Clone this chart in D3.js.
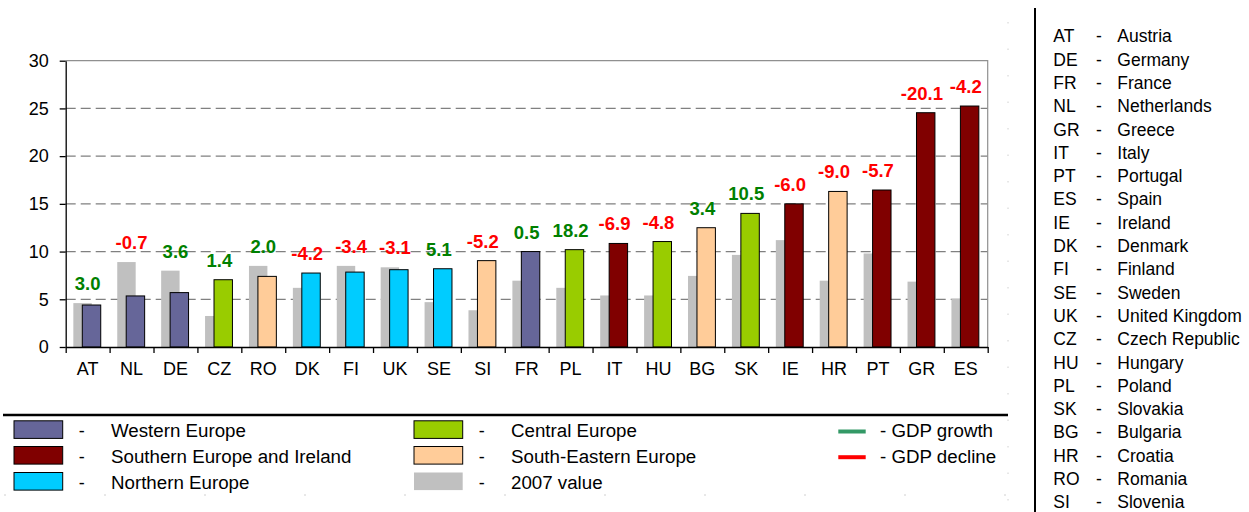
<!DOCTYPE html>
<html>
<head>
<meta charset="utf-8">
<script src="https://cdn.jsdelivr.net/npm/d3@7"></script>
<style>
  body { margin: 0; background: #fff; }
  svg { display: block; font-family: Arial, "Liberation Sans", sans-serif; }
</style>
</head>
<body>
<svg id="chart" width="1249" height="512"></svg>
<script>
// Countries in plotted order
const countries = ["AT","NL","DE","CZ","RO","DK","FI","UK","SE","SI","FR","PL","IT","HU","BG","SK","IE","HR","PT","GR","ES"];
// Regional group of each country (index into regionNames)
const countryRegion = [0,0,0,3,4,2,2,2,2,4,0,3,1,3,4,3,1,4,1,1,1];
// Current value per country
const currentValues = [4.4,5.35,5.7,7.05,7.4,7.75,7.85,8.1,8.2,9.05,10.0,10.2,10.85,11.05,12.5,14.0,15.0,16.3,16.45,24.55,25.25];
// 2007 value per country
const values2007 = [4.6,8.9,8.0,3.25,8.5,6.2,8.5,8.35,4.7,3.85,6.95,6.2,5.4,5.4,7.45,9.65,11.2,6.95,9.8,6.85,5.05];
// GDP change shown above each pair of bars
const gdpChange = [3.0,-0.7,3.6,1.4,2.0,-4.2,-3.4,-3.1,5.1,-5.2,0.5,18.2,-6.9,-4.8,3.4,10.5,-6.0,-9.0,-5.7,-20.1,-4.2];
// Y axis ticks
const yTicks = [0,5,10,15,20,25,30];
// Region legend
const regionNames = ["Western Europe","Southern Europe and Ireland","Northern Europe","Central Europe","South-Eastern Europe"];
const label2007 = "2007 value";
const gdpLegend = ["- GDP growth","- GDP decline"];
// Country code glossary
const glossaryCodes = ["AT","DE","FR","NL","GR","IT","PT","ES","IE","DK","FI","SE","UK","CZ","HU","PL","SK","BG","HR","RO","SI"];
const glossaryNames = ["Austria","Germany","France","Netherlands","Greece","Italy","Portugal","Spain","Ireland","Denmark","Finland","Sweden","United Kingdom","Czech Republic","Hungary","Poland","Slovakia","Bulgaria","Croatia","Romania","Slovenia"];

const regionColors = ["#666699","#800000","#00ccff","#99cc00","#ffcc99"];
const greyColor = "#c0c0c0";
const growthColor = "#008000";
const declineColor = "#ff0000";
const growthLegendColor = "#339966";

// one decimal, plain hyphen for negatives
const fmtChange = v => (v < 0 ? "-" : "") + Math.abs(v).toFixed(1);

const svg = d3.select("#chart");

const plot = { left: 65.7, right: 987.7, top: 60.7, bottom: 347 };

const x = d3.scaleBand().domain(countries).range([plot.left, plot.right]).padding(0);
const y = d3.scaleLinear().domain([0, 30]).range([plot.bottom, plot.top]);
const bw = x.bandwidth();

// Dashed gridlines
svg.append("g")
  .selectAll("line")
  .data(yTicks.filter(t => t > 0 && t < 30))
  .join("line")
  .attr("x1", plot.left).attr("x2", plot.right)
  .attr("y1", d => y(d)).attr("y2", d => y(d))
  .attr("stroke", "#808080").attr("stroke-width", 1.2)
  .attr("stroke-dasharray", "10,5");

// Plot area border: top and right
svg.append("path")
  .attr("d", `M${plot.left},${y(30)}H${plot.right}V${plot.bottom}`)
  .attr("fill", "none").attr("stroke", "#909090").attr("stroke-width", 1.2);

// Faint cell borders
svg.append("line")
  .attr("x1", 1008).attr("x2", 1008).attr("y1", 22).attr("y2", 512)
  .attr("stroke", "#d0d0d0").attr("stroke-width", 1).attr("stroke-dasharray", "1.5,25");
svg.append("line")
  .attr("x1", 4).attr("x2", 1008).attr("y1", 495).attr("y2", 495)
  .attr("stroke", "#d0d0d0").attr("stroke-width", 1).attr("stroke-dasharray", "2,98");

// 2007 bars (behind)
svg.append("g")
  .selectAll("rect")
  .data(countries)
  .join("rect")
  .attr("x", d => x(d) + bw * 0.174)
  .attr("width", bw * 0.42)
  .attr("y", (d, i) => y(values2007[i]))
  .attr("height", (d, i) => y(0) - y(values2007[i]))
  .attr("fill", greyColor);

// Current bars
svg.append("g")
  .selectAll("rect")
  .data(countries)
  .join("rect")
  .attr("x", d => x(d) + bw * 0.378)
  .attr("width", bw * 0.42)
  .attr("y", (d, i) => y(currentValues[i]))
  .attr("height", (d, i) => y(0) - y(currentValues[i]))
  .attr("fill", (d, i) => regionColors[countryRegion[i]])
  .attr("stroke", "#000").attr("stroke-width", 1);

// GDP change labels
svg.append("g")
  .selectAll("text")
  .data(countries)
  .join("text")
  .attr("x", d => x(d) + bw / 2)
  .attr("y", (d, i) => y(Math.max(currentValues[i], values2007[i])) - 13)
  .attr("text-anchor", "middle")
  .attr("font-size", 18.5).attr("font-weight", "bold")
  .attr("fill", (d, i) => gdpChange[i] < 0 ? declineColor : growthColor)
  .text((d, i) => fmtChange(gdpChange[i]));

// Y axis
const yAxis = svg.append("g")
  .attr("transform", `translate(${plot.left},0)`)
  .call(d3.axisLeft(y).tickValues(yTicks).tickSize(6).tickSizeOuter(0).tickPadding(11))
  .attr("font-family", null).attr("font-size", 18);
yAxis.selectAll("text").attr("fill", "#000");
yAxis.selectAll("line,path").attr("stroke", "#000").attr("stroke-width", 1.3);

// X axis: labels at band centres, ticks at band boundaries
const xAxis = svg.append("g")
  .attr("transform", `translate(0,${plot.bottom})`)
  .call(d3.axisBottom(x).tickSize(0).tickPadding(15))
  .attr("font-family", null).attr("font-size", 18);
xAxis.selectAll("text").attr("fill", "#000");
xAxis.select(".domain").attr("stroke", "#000").attr("stroke-width", 1.3);

const boundary = d3.scaleLinear().domain([0, countries.length]).range([plot.left, plot.right]);
const xTicks = svg.append("g")
  .attr("transform", `translate(0,${plot.bottom})`)
  .call(d3.axisBottom(boundary).tickValues(d3.range(countries.length + 1)).tickSize(6).tickFormat(""));
xTicks.select(".domain").remove();
xTicks.selectAll("line").attr("stroke", "#000").attr("stroke-width", 1.3);

// Legend
svg.append("line")
  .attr("x1", 3).attr("x2", 1008).attr("y1", 415).attr("y2", 415)
  .attr("stroke", "#000").attr("stroke-width", 2.5);

const rowBase = [437.3, 463, 489];
const legendCols = [
  { swatchX: 14, dashX: 81.7, textX: 111, items: [
    { label: regionNames[0], color: regionColors[0], stroke: true },
    { label: regionNames[1], color: regionColors[1], stroke: true },
    { label: regionNames[2], color: regionColors[2], stroke: true } ] },
  { swatchX: 414, dashX: 481.7, textX: 511, items: [
    { label: regionNames[3], color: regionColors[3], stroke: true },
    { label: regionNames[4], color: regionColors[4], stroke: true },
    { label: label2007, color: greyColor, stroke: false } ] }
];

const legend = svg.append("g").attr("font-size", 18).attr("fill", "#000");
legendCols.forEach(col => {
  col.items.forEach((it, r) => {
    const base = rowBase[r];
    legend.append("rect")
      .attr("x", col.swatchX).attr("y", base - 16.5)
      .attr("width", 48.7).attr("height", 17.6)
      .attr("fill", it.color)
      .attr("stroke", it.stroke ? "#000" : "none").attr("stroke-width", 1);
    legend.append("text")
      .attr("x", col.dashX).attr("y", base)
      .attr("text-anchor", "middle").text("-");
    legend.append("text")
      .attr("transform", `translate(${col.textX},${base}) scale(1.04,1)`)
      .text(it.label);
  });
});

[growthLegendColor, declineColor].forEach((c, r) => {
  legend.append("line")
    .attr("x1", 838.3).attr("x2", 865.7)
    .attr("y1", rowBase[r] - 5.8).attr("y2", rowBase[r] - 5.8)
    .attr("stroke", c).attr("stroke-width", 4);
  legend.append("text")
    .attr("transform", `translate(880,${rowBase[r]}) scale(1.04,1)`)
    .text(gdpLegend[r]);
});

// Country code glossary
svg.append("line")
  .attr("x1", 1035).attr("x2", 1035).attr("y1", 8).attr("y2", 512)
  .attr("stroke", "#000").attr("stroke-width", 2);

const glossary = svg.append("g").attr("font-size", 17.5).attr("fill", "#000");
const rowY = i => 42.3 + i * 23.3;
glossary.selectAll("text.code")
  .data(glossaryCodes).join("text").attr("class", "code")
  .attr("x", 1053.3).attr("y", (d, i) => rowY(i)).text(d => d);
glossary.selectAll("text.dash")
  .data(glossaryCodes).join("text").attr("class", "dash")
  .attr("x", 1099).attr("y", (d, i) => rowY(i)).attr("text-anchor", "middle").text("-");
glossary.selectAll("text.name")
  .data(glossaryNames).join("text").attr("class", "name")
  .attr("x", 1117.3).attr("y", (d, i) => rowY(i)).text(d => d);
</script>
</body>
</html>
